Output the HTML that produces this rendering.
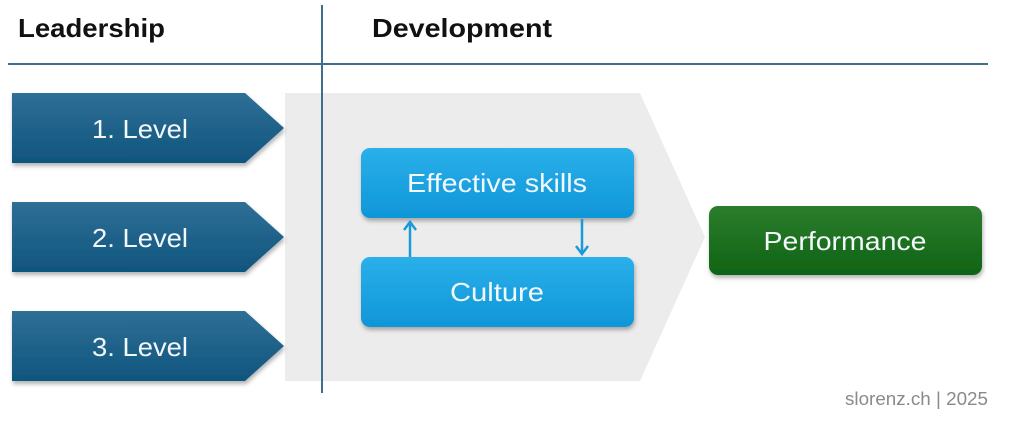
<!DOCTYPE html>
<html><head><meta charset="utf-8"><style>
html,body{margin:0;padding:0;background:#fff;width:1024px;height:423px;overflow:hidden}
svg{display:block;font-family:"Liberation Sans",sans-serif}
</style></head><body>
<svg width="1024" height="423" viewBox="0 0 1024 423" xmlns="http://www.w3.org/2000/svg">
<defs>
<linearGradient id="dk" x1="0" y1="0" x2="0" y2="1"><stop offset="0" stop-color="#2f6f96"/><stop offset="1" stop-color="#0f557e"/></linearGradient>
<linearGradient id="lb" x1="0" y1="0" x2="0" y2="1"><stop offset="0" stop-color="#2ab0ea"/><stop offset="1" stop-color="#0f96d8"/></linearGradient>
<linearGradient id="gr" x1="0" y1="0" x2="0" y2="1"><stop offset="0" stop-color="#2c7d2c"/><stop offset="1" stop-color="#0f6414"/></linearGradient>
<filter id="sh" x="-10%" y="-10%" width="120%" height="130%"><feDropShadow dx="1" dy="3" stdDeviation="2" flood-color="#000" flood-opacity="0.3"/></filter>
</defs>
<polygon points="285,93 640,93 705,237 640,381 285,381" fill="#ececec"/>
<line x1="322" y1="5" x2="322" y2="393" stroke="#3f6f8c" stroke-width="2"/>
<line x1="8" y1="64" x2="988" y2="64" stroke="#3f6f8c" stroke-width="2"/>
<text x="18" y="37" font-size="26" font-weight="bold" fill="#111" textLength="147" lengthAdjust="spacingAndGlyphs">Leadership</text>
<text x="372" y="37" font-size="26" font-weight="bold" fill="#111" textLength="180" lengthAdjust="spacingAndGlyphs">Development</text>
<g filter="url(#sh)">
<polygon points="12,93 245,93 284,128 245,163 12,163" fill="url(#dk)"/>
<polygon points="12,202 245,202 284,237 245,272 12,272" fill="url(#dk)"/>
<polygon points="12,311 245,311 284,346 245,381 12,381" fill="url(#dk)"/>
<rect x="361" y="148" width="273" height="70" rx="9" fill="url(#lb)"/>
<rect x="361" y="257" width="273" height="70" rx="9" fill="url(#lb)"/>
<rect x="709" y="206" width="273" height="69" rx="9" fill="url(#gr)"/>
</g>
<g fill="#f2f7fb" font-size="26" text-anchor="middle">
<text x="140" y="138" textLength="96" lengthAdjust="spacingAndGlyphs">1. Level</text>
<text x="140" y="247" textLength="96" lengthAdjust="spacingAndGlyphs">2. Level</text>
<text x="140" y="356" textLength="96" lengthAdjust="spacingAndGlyphs">3. Level</text>
<text x="497" y="192" textLength="180" lengthAdjust="spacingAndGlyphs">Effective skills</text>
<text x="497" y="301" textLength="94" lengthAdjust="spacingAndGlyphs">Culture</text>
<text x="845" y="250" textLength="163" lengthAdjust="spacingAndGlyphs">Performance</text>
</g>
<g stroke="#1a9ad8" stroke-width="2.5" fill="none">
<line x1="410" y1="257" x2="410" y2="222"/><polyline points="404,230 410,222 416,230"/>
<line x1="582" y1="219" x2="582" y2="254"/><polyline points="576,246 582,254 588,246"/>
</g>
<text x="988" y="405" font-size="18" fill="#8a8a8a" text-anchor="end" textLength="143" lengthAdjust="spacingAndGlyphs">slorenz.ch | 2025</text>
</svg>
</body></html>
